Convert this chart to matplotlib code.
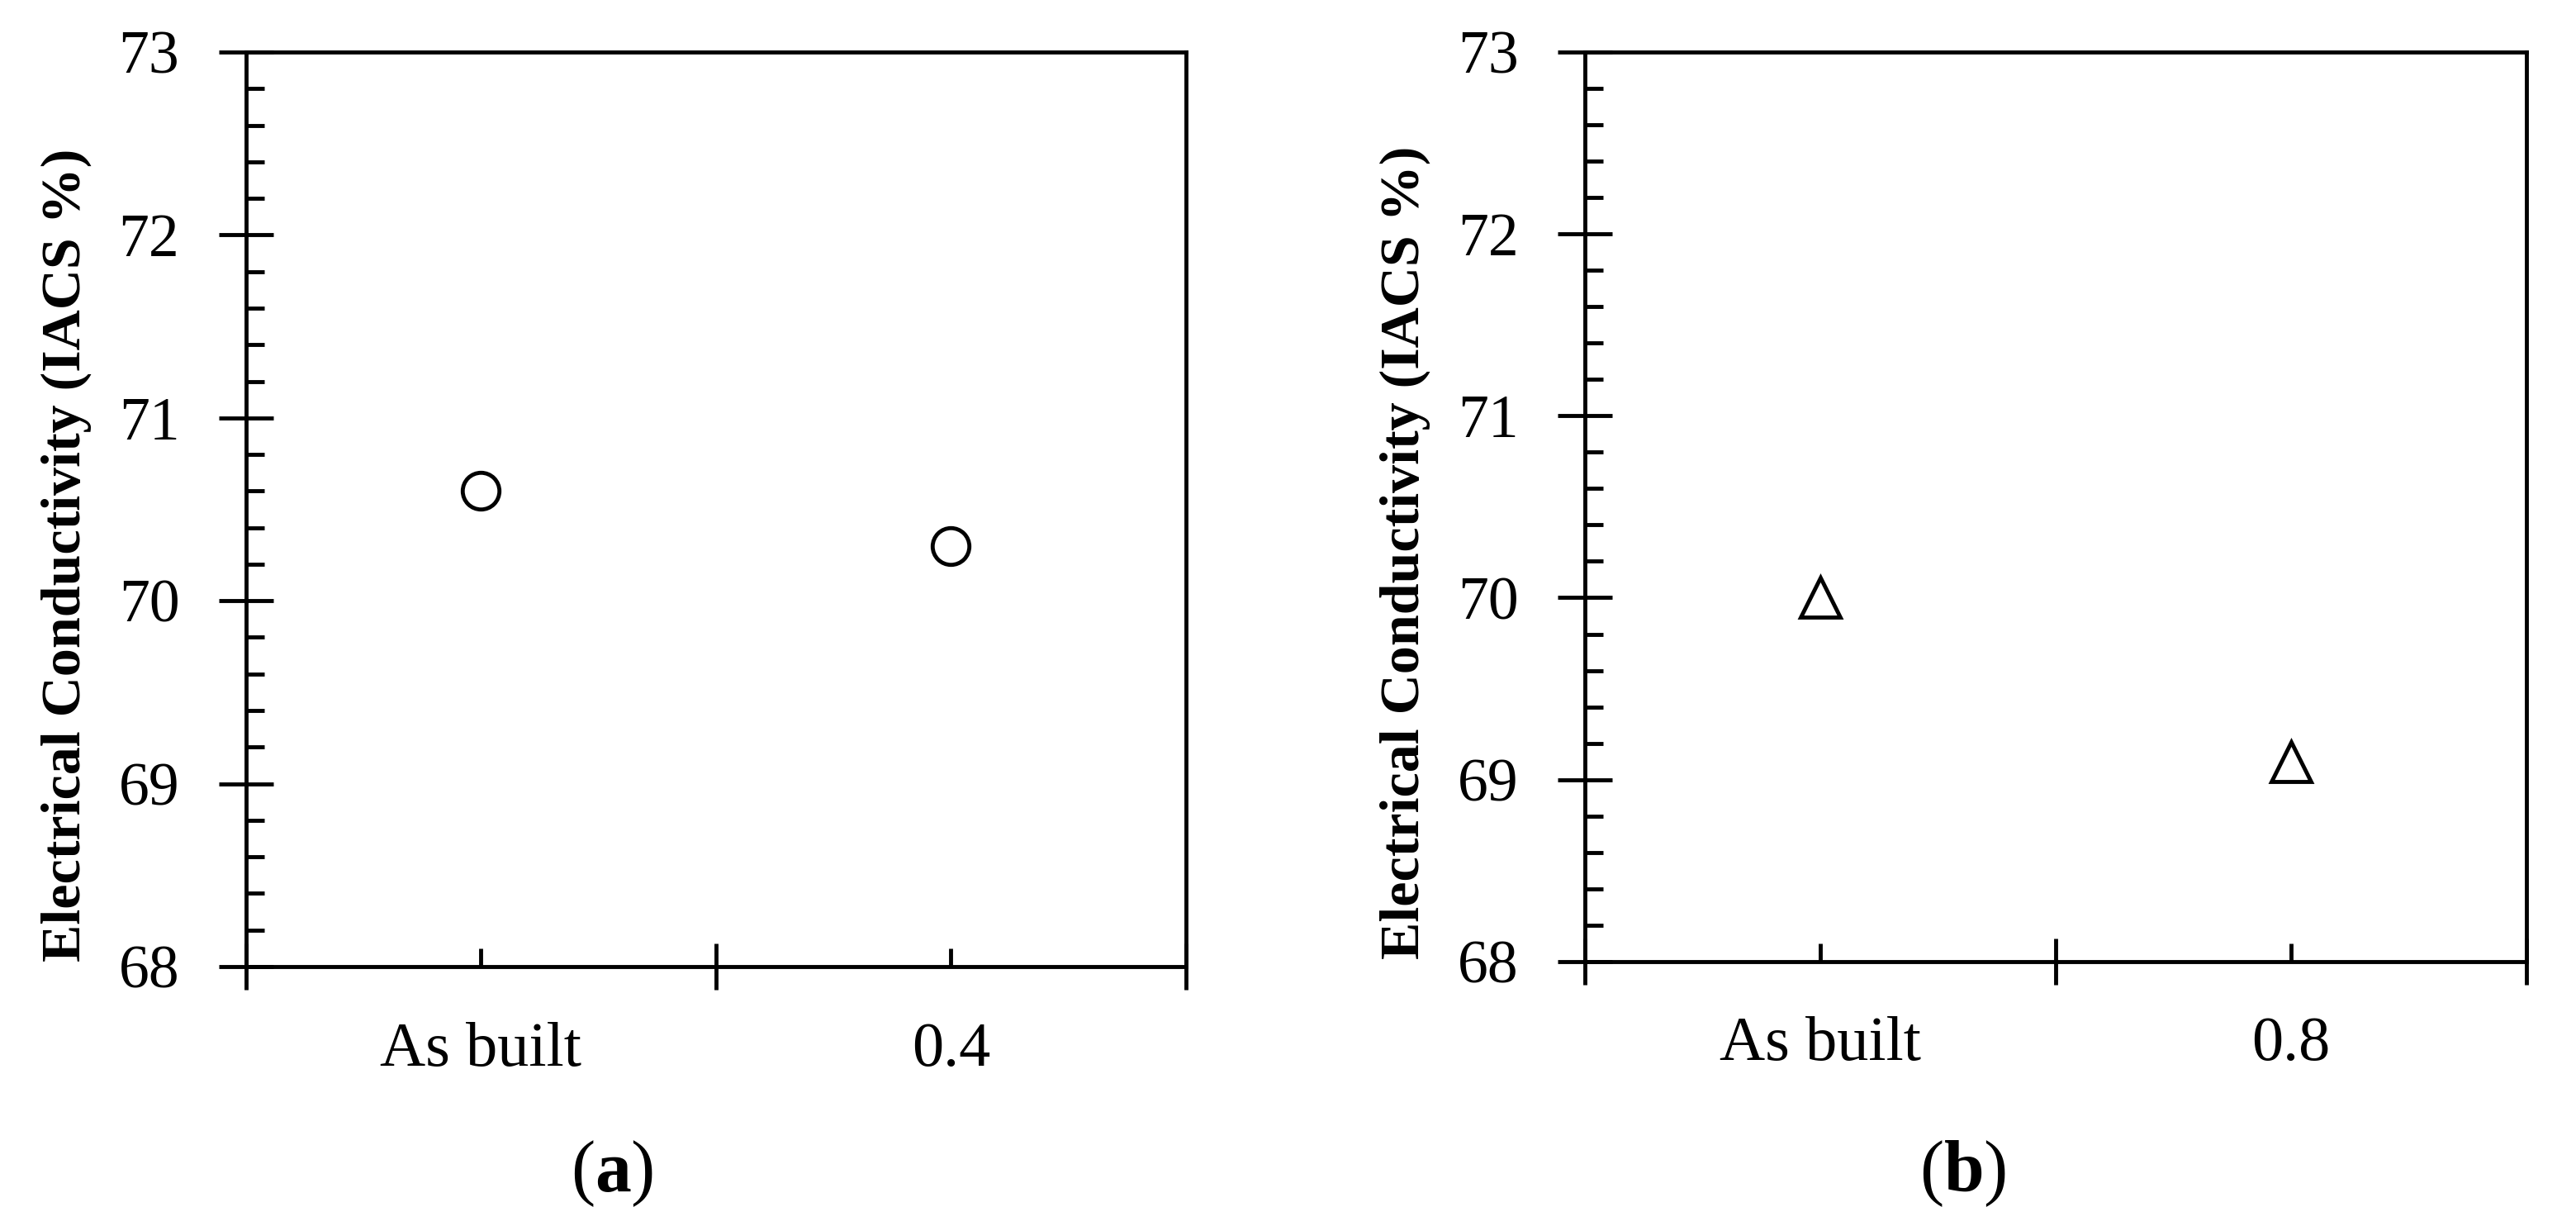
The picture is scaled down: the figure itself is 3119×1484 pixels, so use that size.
import matplotlib.pyplot as plt
import numpy as np
from matplotlib.ticker import MultipleLocator, FixedLocator

plt.rcParams['font.family'] = ['Liberation Serif', 'DejaVu Serif']
plt.rcParams['mathtext.fontset'] = 'custom'
plt.rcParams['mathtext.rm'] = 'Liberation Serif'
plt.rcParams['mathtext.bf'] = 'Liberation Serif:bold'

# data
cats_a = ['As built', '0.4']
vals_a = [70.6, 70.3]
cats_b = ['As built', '0.8']
vals_b = [70.0, 69.1]
ylabel = 'Electrical Conductivity (IACS %)'

fig = plt.figure(figsize=(31.19, 14.84), dpi=100)
ax1 = fig.add_axes([0.0955, 0.2116, 0.3649, 0.7459])
ax2 = fig.add_axes([0.6153, 0.2158, 0.3655, 0.7417])

lw = 3.5


def style(ax, cats, vals, marker, msize, caption, cx):
    x = np.arange(len(cats)) + 0.5
    ax.plot(x, vals, linestyle='none', marker=marker, markersize=msize,
            markerfacecolor='white', markeredgecolor='black', markeredgewidth=3.5)
    ax.set_xlim(0, len(cats))
    ax.set_ylim(68, 73)
    for s in ax.spines.values():
        s.set_linewidth(lw)
    # y ticks: major crossing, minor inside
    ax.yaxis.set_major_locator(MultipleLocator(1))
    ax.yaxis.set_minor_locator(MultipleLocator(0.2))
    ax.tick_params(axis='y', which='major', direction='inout', length=48, width=lw,
                   labelsize=53, pad=34)
    ax.tick_params(axis='y', which='minor', direction='in', length=16, width=lw)
    # x ticks: category boundaries outward, labels at centres
    ax.xaxis.set_major_locator(FixedLocator(np.arange(len(cats) + 1)))
    ax.set_xticklabels([''] * (len(cats) + 1))
    ax.set_xticks(x, minor=True)
    ax.set_xticklabels(cats, minor=True)
    ax.tick_params(axis='x', which='major', direction='inout', length=40, width=lw)
    ax.tick_params(axis='x', which='minor', direction='in', length=16, width=lw,
                   labelsize=55, pad=48)
    ax.set_ylabel(ylabel, fontsize=49, fontweight='bold')
    ax.yaxis.set_label_coords(-0.164, 0.45)
    fig.text(cx, 0.043, r'($\mathbf{' + caption + r'}$)', fontsize=63,
             ha='center', va='center')


style(ax1, cats_a, vals_a, 'o', 32, 'a', 0.2376)
style(ax2, cats_b, vals_b, '^', 34, 'b', 0.762)

fig.savefig('out.png', dpi=100)
